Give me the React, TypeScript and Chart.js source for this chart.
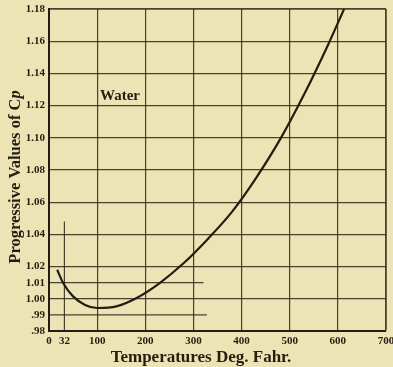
import React, { useEffect, useRef } from "react";
import { Chart, registerables } from "chart.js";

Chart.register(...registerables);

// Curve: progressive values of Cp for water vs temperature (deg F)
const TEMPS = [17, 30, 50, 75, 100, 140, 180, 230, 280, 330, 380, 430, 480, 530, 580, 613];
const CP = [1.018, 1.0095, 1.0015, 0.9962, 0.9943, 0.9953, 1.0002, 1.0098, 1.0222, 1.0372, 1.054, 1.075, 1.099, 1.127, 1.158, 1.18];

const X_TICKS = [0, 32, 100, 200, 300, 400, 500, 600, 700];
const Y_TICKS = [0.98, 0.99, 1.0, 1.01, 1.02, 1.04, 1.06, 1.08, 1.1, 1.12, 1.14, 1.16, 1.18];
const Y_TICK_LABELS = [".98", ".99", "1.00", "1.01", "1.02", "1.04", "1.06", "1.08", "1.10", "1.12", "1.14", "1.16", "1.18"];

// Short horizontal rules (value, end temperature)
const SHORT_RULE_VALUES = [0.99, 1.01];
const SHORT_RULE_ENDS = [328, 321];
// Short vertical rule at 32 deg
const MARK_32_X = 32;
const MARK_32_RANGE = [0.98, 1.048];

const X_TITLE = "Temperatures Deg. Fahr.";
const Y_TITLE = "Progressive Values of ";
const LABEL = "Water";

const BG = "rgb(236,228,180)";
const INK = "#231e12";
const GRID = "rgba(45,38,24,0.85)";
const SERIF = "'Liberation Serif', 'DejaVu Serif', serif";

export default function App() {
  const ref = useRef<HTMLCanvasElement | null>(null);

  useEffect(() => {
    document.body.style.margin = "0";
    document.body.style.background = BG;
    const canvas = ref.current!;
    const datasets: any[] = [
      {
        data: TEMPS.map((t, i) => ({ x: t, y: CP[i] })),
        borderColor: INK,
        borderWidth: 2.2,
        pointRadius: 0,
        cubicInterpolationMode: "monotone",
        fill: false,
      },
    ];
    SHORT_RULE_VALUES.forEach((v, i) => {
      datasets.push({
        data: [
          { x: 0, y: v },
          { x: SHORT_RULE_ENDS[i], y: v },
        ],
        borderColor: GRID,
        borderWidth: 1.2,
        pointRadius: 0,
        tension: 0,
      });
    });
    datasets.push({
      data: [
        { x: MARK_32_X, y: MARK_32_RANGE[0] },
        { x: MARK_32_X, y: MARK_32_RANGE[1] },
      ],
      borderColor: GRID,
      borderWidth: 1.2,
      pointRadius: 0,
      tension: 0,
    });

    const decor = {
      id: "decor",
      beforeDraw(chart: any) {
        const c = chart.ctx;
        c.save();
        c.fillStyle = BG;
        c.fillRect(0, 0, chart.width, chart.height);
        c.restore();
      },
      afterDraw(chart: any) {
        const c = chart.ctx;
        c.save();
        c.fillStyle = INK;
        // x title
        c.font = `bold 17px ${SERIF}`;
        c.textAlign = "center";
        c.textBaseline = "alphabetic";
        c.fillText(X_TITLE, 201, 362);
        // water label
        c.font = `bold 15px ${SERIF}`;
        c.textAlign = "left";
        c.fillText(LABEL, 100, 100);
        // y title rotated
        c.translate(20, 177);
        c.rotate(-Math.PI / 2);
        const f = "16.5px";
        c.font = `bold ${f} ${SERIF}`;
        const w1 = c.measureText(Y_TITLE).width;
        const w2 = c.measureText("C").width;
        c.font = `italic bold ${f} ${SERIF}`;
        const w3 = c.measureText("p").width;
        const total = w1 + w2 + w3;
        const x0 = -total / 2;
        c.textAlign = "left";
        c.font = `bold ${f} ${SERIF}`;
        c.fillText(Y_TITLE, x0, 0);
        c.fillText("C", x0 + w1, 0);
        c.font = `italic bold ${f} ${SERIF}`;
        c.fillText("p", x0 + w1 + w2, 0);
        c.restore();
      },
    };

    const chart = new Chart(canvas, {
      type: "line",
      data: { datasets },
      plugins: [decor],
      options: {
        animation: false,
        responsive: false,
        devicePixelRatio: 1,
        layout: { padding: { top: 9, right: 7, left: 0, bottom: 0 } },
        plugins: { legend: { display: false }, tooltip: { enabled: false } },
        scales: {
          x: {
            type: "linear",
            min: 0,
            max: 700,
            afterBuildTicks: (s: any) => {
              s.ticks = X_TICKS.map((v) => ({ value: v }));
            },
            afterFit: (s: any) => {
              s.height = 36;
              s.paddingLeft = 0;
              s.paddingRight = 0;
            },
            grid: {
              drawTicks: false,
              color: (ctx: any) => (ctx.tick && (ctx.tick.value === 0 || ctx.tick.value === 32) ? "rgba(0,0,0,0)" : GRID),
              lineWidth: (ctx: any) => (ctx.tick && ctx.tick.value === 700 ? 1.8 : 1.2),
            },
            border: { display: true, color: INK, width: 2 },
            ticks: {
              autoSkip: false,
              maxRotation: 0,
              padding: 4,
              color: INK,
              font: { family: SERIF, weight: "bold", size: 11 },
              callback: (v: any) => String(v),
            },
          },
          y: {
            type: "linear",
            min: 0.98,
            max: 1.18,
            afterBuildTicks: (s: any) => {
              s.ticks = Y_TICKS.map((v) => ({ value: v }));
            },
            afterFit: (s: any) => {
              s.width = 49;
              s.paddingTop = 0;
              s.paddingBottom = 0;
            },
            grid: {
              drawTicks: false,
              color: (ctx: any) => {
                const v = ctx.tick ? ctx.tick.value : null;
                if (v === 0.99 || v === 1.01 || v === 0.98) return "rgba(0,0,0,0)";
                return GRID;
              },
              lineWidth: (ctx: any) => (ctx.tick && ctx.tick.value === 1.18 ? 1.8 : 1.2),
            },
            border: { display: true, color: INK, width: 2 },
            ticks: {
              autoSkip: false,
              padding: 4,
              color: INK,
              font: { family: SERIF, weight: "bold", size: 11 },
              callback: (v: any) => {
                const i = Y_TICKS.findIndex((t) => Math.abs(t - v) < 1e-6);
                return i >= 0 ? Y_TICK_LABELS[i] : "";
              },
            },
          },
        },
      },
    });
    return () => chart.destroy();
  }, []);

  return <canvas ref={ref} width={393} height={367} style={{ display: "block" }} />;
}
